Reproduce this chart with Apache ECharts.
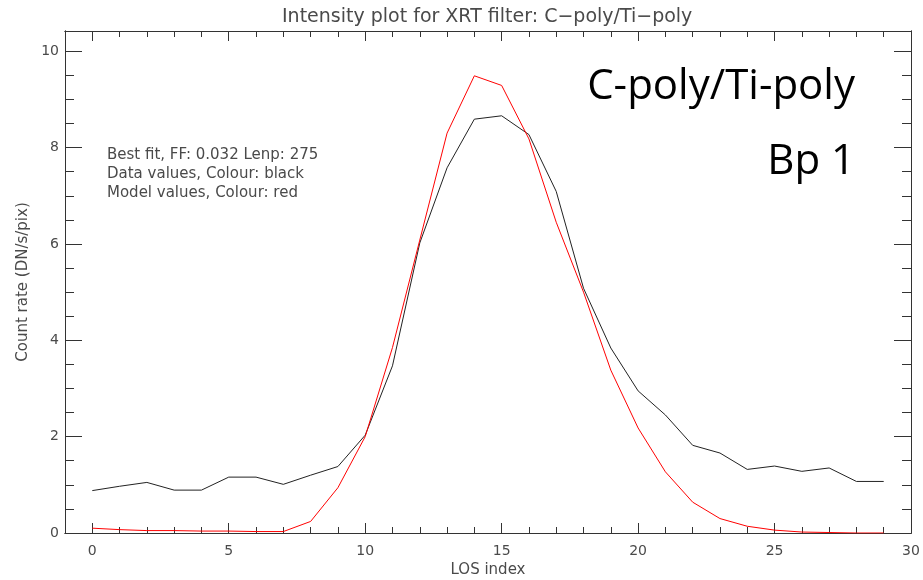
<!DOCTYPE html>
<html>
<head>
<meta charset="utf-8">
<title>Intensity plot for XRT filter: C-poly/Ti-poly</title>
<script src="https://cdn.jsdelivr.net/npm/echarts@6/dist/echarts.min.js"></script>
<style>
  html, body { margin: 0; padding: 0; background: #fff; }
  #chart { width: 923px; height: 580px; }
</style>
</head>
<body>
<div id="chart"></div>
<script>
// LOS index 0..29
const losIndex = [0, 1, 2, 3, 4, 5, 6, 7, 8, 9, 10, 11, 12, 13, 14, 15, 16, 17, 18, 19, 20, 21, 22, 23, 24, 25, 26, 27, 28, 29]
// data values (black)
const dataValues = [0.88, 0.97, 1.05, 0.89, 0.89, 1.16, 1.16, 1.01, 1.2, 1.38, 2.03, 3.47, 6.02, 7.58, 8.59, 8.66, 8.27, 7.09, 5.08, 3.84, 2.95, 2.45, 1.82, 1.66, 1.32, 1.39, 1.28, 1.35, 1.07, 1.07]
// model values (red)
const modelValues = [0.1, 0.07, 0.05, 0.05, 0.04, 0.04, 0.03, 0.03, 0.24, 0.94, 2.0, 3.85, 6.08, 8.3, 9.49, 9.29, 8.18, 6.45, 5.0, 3.38, 2.18, 1.27, 0.64, 0.3, 0.14, 0.06, 0.02, 0.01, 0, 0]
const xMajorTicks = [0, 5, 10, 15, 20, 25, 30]
const yMajorTicks = [0, 2, 4, 6, 8, 10]
const infoLines = ['Best fit, FF: 0.032 Lenp: 275', 'Data values, Colour: black', 'Model values, Colour: red']

const xMinorTicks = []
for (let i = 0; i <= 30; i++) xMinorTicks.push(i)
const yMinorTicks = []
for (let i = 0; i <= 20; i++) yMinorTicks.push(i / 2)

const axisColor = '#333'
const textColor = '#4a4a4a'
const plotFont = 'DejaVu Sans'

const xAxisDef = (position, ticks, len, showLabel) => ({
  type: 'value',
  position,
  min: -1,
  max: 30,
  axisLine: { show: true, onZero: false, lineStyle: { color: axisColor, width: 1 } },
  axisTick: { show: true, inside: true, length: len, customValues: ticks, lineStyle: { color: axisColor } },
  axisLabel: {
    show: showLabel,
    customValues: ticks,
    color: textColor,
    fontFamily: plotFont,
    fontSize: 14,
    margin: 11
  },
  splitLine: { show: false }
})

const yAxisDef = (position, ticks, len, showLabel) => ({
  type: 'value',
  position,
  min: 0,
  max: 10.42,
  axisLine: { show: true, onZero: false, lineStyle: { color: axisColor, width: 1 } },
  axisTick: { show: true, inside: true, length: len, customValues: ticks, lineStyle: { color: axisColor } },
  axisLabel: {
    show: showLabel,
    customValues: ticks,
    color: textColor,
    fontFamily: plotFont,
    fontSize: 14,
    margin: 6
  },
  splitLine: { show: false }
})

const xAxes = [
  xAxisDef('bottom', xMajorTicks, 10, true),
  xAxisDef('bottom', xMinorTicks, 6, false),
  xAxisDef('top', xMajorTicks, 10, false),
  xAxisDef('top', xMinorTicks, 6, false)
]
// 横坐标名称
Object.assign(xAxes[0], {
  name: 'LOS index',
  nameLocation: 'middle',
  nameGap: 30,
  nameTextStyle: { color: textColor, fontFamily: plotFont, fontSize: 15 }
})

const yAxes = [
  yAxisDef('left', yMajorTicks, 17, true),
  yAxisDef('left', yMinorTicks, 9, false),
  yAxisDef('right', yMajorTicks, 17, false),
  yAxisDef('right', yMinorTicks, 9, false)
]
Object.assign(yAxes[0], {
  name: 'Count rate (DN/s/pix)',
  nameLocation: 'middle',
  nameGap: 33,
  nameTextStyle: { color: textColor, fontFamily: plotFont, fontSize: 15 }
})

const chart = echarts.init(document.getElementById('chart'))
chart.setOption({
  animation: false,
  backgroundColor: '#fff',
  title: {
    text: 'Intensity plot for XRT filter: C\u2212poly/Ti\u2212poly',
    left: 277,
    top: 3,
    textStyle: { color: textColor, fontFamily: plotFont, fontSize: 19, fontWeight: 'normal' }
  },
  grid: { left: 65, right: 12, top: 31, bottom: 47, containLabel: false, outerBoundsMode: 'none' },
  xAxis: xAxes,
  yAxis: yAxes,
  graphic: [
    ...infoLines.map((t, i) => ({
      type: 'text',
      left: 107,
      top: 148 + i * 19,
      style: { text: t, fill: textColor, font: '15px "DejaVu Sans"' }
    })),
    {
      type: 'text',
      right: 68,
      top: 66,
      style: { text: 'C-poly/Ti-poly', fill: '#000', font: '42px "Open Sans"' }
    },
    {
      type: 'text',
      right: 68,
      top: 141,
      style: { text: 'Bp 1', fill: '#000', font: '42px "Open Sans"' }
    }
  ],
  series: [
    {
      name: 'Data',
      type: 'line',
      data: losIndex.map((x, i) => [x, dataValues[i]]),
      showSymbol: false,
      lineStyle: { color: '#222', width: 1 },
      z: 3
    },
    {
      name: 'Model',
      type: 'line',
      data: losIndex.map((x, i) => [x, modelValues[i]]),
      showSymbol: false,
      lineStyle: { color: '#ff0000', width: 1 },
      z: 4
    }
  ]
})
</script>
</body>
</html>
